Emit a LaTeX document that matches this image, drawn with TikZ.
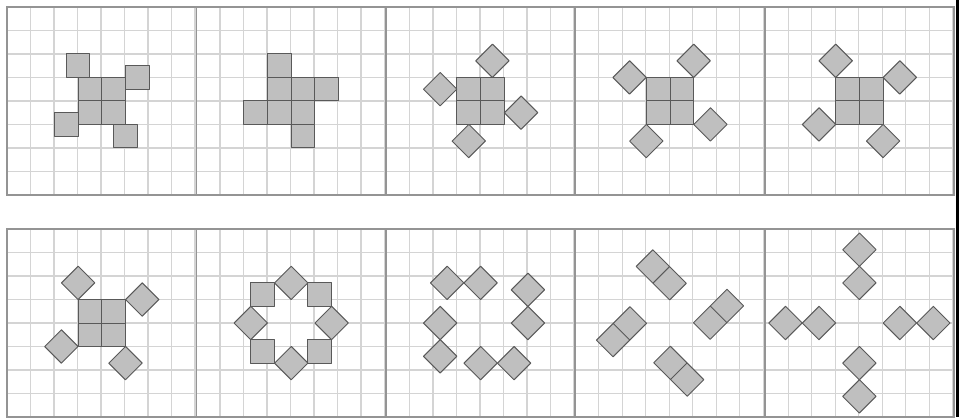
\documentclass[tikz,border=0pt]{standalone}
\begin{document}
\begin{tikzpicture}[x=1.0074cm, y=1cm,
      cellgrid/.style={draw=black!17, line width=1.5pt},
      panelframe/.style={draw=black!42, line width=2pt},
      tile/.style={draw=black!65, fill=gray!50, line width=1.2pt, line join=round},
      diam/.style={tile, rotate=45},
      pairne/.style={tile, rotate=45},
      pairse/.style={tile, rotate=-45}]
    % one unit = one grid cell; each panel is 8 x 8 cells with its lower left corner at the
    % scope origin. Diamonds are unit squares turned by 45 degrees, 0.7071 = half diagonal.
    \useasboundingbox (0,0) rectangle (40.76,17.745);
    \fill[white] (0,0) rectangle (40.76,17.745);
    \fill[black] (40.38,0) rectangle (40.49,17.745);
    % top row
    \begin{scope}[shift={(0.3,9.45)}]
      \draw[cellgrid] (0,0) grid (8,8);
      \draw[panelframe] (0,0) rectangle (8,8);
      \draw[tile] (3,3) rectangle (5,5) (4,3) -- (4,5) (3,4) -- (5,4);
      \draw[tile] (2.5,5) rectangle (3.5,6);
      \draw[tile] (5,4.5) rectangle (6,5.5);
      \draw[tile] (2,2.5) rectangle (3,3.5);
      \draw[tile] (4.5,2) rectangle (5.5,3);
    \end{scope}
    \begin{scope}[shift={(8.3,9.45)}]
      \draw[cellgrid] (0,0) grid (8,8);
      \draw[panelframe] (0,0) rectangle (8,8);
      \draw[tile] (3,3) rectangle (5,5) (4,3) -- (4,5) (3,4) -- (5,4);
      \draw[tile] (3,5) rectangle (4,6);
      \draw[tile] (5,4) rectangle (6,5);
      \draw[tile] (2,3) rectangle (3,4);
      \draw[tile] (4,2) rectangle (5,3);
    \end{scope}
    \begin{scope}[shift={(16.3,9.45)}]
      \draw[cellgrid] (0,0) grid (8,8);
      \draw[panelframe] (0,0) rectangle (8,8);
      \draw[tile] (3,3) rectangle (5,5) (4,3) -- (4,5) (3,4) -- (5,4);
      \draw[shift={(4.5,5.7071)}, diam] (-0.5,-0.5) rectangle (0.5,0.5);
      \draw[shift={(5.7071,3.5)}, diam] (-0.5,-0.5) rectangle (0.5,0.5);
      \draw[shift={(3.5,2.2929)}, diam] (-0.5,-0.5) rectangle (0.5,0.5);
      \draw[shift={(2.2929,4.5)}, diam] (-0.5,-0.5) rectangle (0.5,0.5);
    \end{scope}
    \begin{scope}[shift={(24.3,9.45)}]
      \draw[cellgrid] (0,0) grid (8,8);
      \draw[panelframe] (0,0) rectangle (8,8);
      \draw[tile] (3,3) rectangle (5,5) (4,3) -- (4,5) (3,4) -- (5,4);
      \draw[shift={(2.2929,5)}, diam] (-0.5,-0.5) rectangle (0.5,0.5);
      \draw[shift={(5,5.7071)}, diam] (-0.5,-0.5) rectangle (0.5,0.5);
      \draw[shift={(5.7071,3)}, diam] (-0.5,-0.5) rectangle (0.5,0.5);
      \draw[shift={(3,2.2929)}, diam] (-0.5,-0.5) rectangle (0.5,0.5);
    \end{scope}
    \begin{scope}[shift={(32.3,9.45)}]
      \draw[cellgrid] (0,0) grid (8,8);
      \draw[panelframe] (0,0) rectangle (8,8);
      \draw[tile] (3,3) rectangle (5,5) (4,3) -- (4,5) (3,4) -- (5,4);
      \draw[shift={(3,5.7071)}, diam] (-0.5,-0.5) rectangle (0.5,0.5);
      \draw[shift={(5.7071,5)}, diam] (-0.5,-0.5) rectangle (0.5,0.5);
      \draw[shift={(5,2.2929)}, diam] (-0.5,-0.5) rectangle (0.5,0.5);
      \draw[shift={(2.2929,3)}, diam] (-0.5,-0.5) rectangle (0.5,0.5);
    \end{scope}
    % bottom row
    \begin{scope}[shift={(0.3,0)}]
      \draw[cellgrid] (0,0) grid (8,8);
      \draw[panelframe] (0,0) rectangle (8,8);
      \draw[tile] (3,3) rectangle (5,5) (4,3) -- (4,5) (3,4) -- (5,4);
      \draw[shift={(3,5.7071)}, diam] (-0.5,-0.5) rectangle (0.5,0.5);
      \draw[shift={(5.7071,5)}, diam] (-0.5,-0.5) rectangle (0.5,0.5);
      \draw[shift={(5,2.2929)}, diam] (-0.5,-0.5) rectangle (0.5,0.5);
      \draw[shift={(2.2929,3)}, diam] (-0.5,-0.5) rectangle (0.5,0.5);
    \end{scope}
    \begin{scope}[shift={(8.3,0)}]
      \draw[cellgrid] (0,0) grid (8,8);
      \draw[panelframe] (0,0) rectangle (8,8);
      \draw[tile] (2.2929,4.7071) rectangle (3.2929,5.7071);
      \draw[tile] (4.7071,4.7071) rectangle (5.7071,5.7071);
      \draw[tile] (2.2929,2.2929) rectangle (3.2929,3.2929);
      \draw[tile] (4.7071,2.2929) rectangle (5.7071,3.2929);
      \draw[shift={(4,5.7071)}, diam] (-0.5,-0.5) rectangle (0.5,0.5);
      \draw[shift={(5.7071,4)}, diam] (-0.5,-0.5) rectangle (0.5,0.5);
      \draw[shift={(4,2.2929)}, diam] (-0.5,-0.5) rectangle (0.5,0.5);
      \draw[shift={(2.2929,4)}, diam] (-0.5,-0.5) rectangle (0.5,0.5);
    \end{scope}
    \begin{scope}[shift={(16.3,0)}]
      \draw[cellgrid] (0,0) grid (8,8);
      \draw[panelframe] (0,0) rectangle (8,8);
      \draw[shift={(2.5858,5.7071)}, diam] (-0.5,-0.5) rectangle (0.5,0.5);
      \draw[shift={(4,5.7071)}, diam] (-0.5,-0.5) rectangle (0.5,0.5);
      \draw[shift={(6,5.4142)}, diam] (-0.5,-0.5) rectangle (0.5,0.5);
      \draw[shift={(6,4)}, diam] (-0.5,-0.5) rectangle (0.5,0.5);
      \draw[shift={(4,2.2929)}, diam] (-0.5,-0.5) rectangle (0.5,0.5);
      \draw[shift={(5.4142,2.2929)}, diam] (-0.5,-0.5) rectangle (0.5,0.5);
      \draw[shift={(2.2929,4)}, diam] (-0.5,-0.5) rectangle (0.5,0.5);
      \draw[shift={(2.2929,2.5858)}, diam] (-0.5,-0.5) rectangle (0.5,0.5);
    \end{scope}
    \begin{scope}[shift={(24.3,0)}]
      \draw[cellgrid] (0,0) grid (8,8);
      \draw[panelframe] (0,0) rectangle (8,8);
      \draw[shift={(3.63,6.05)}, pairse] (-1,-0.5) rectangle (1,0.5) (0,-0.5) -- (0,0.5);
      \draw[shift={(6.05,4.37)}, pairne] (-1,-0.5) rectangle (1,0.5) (0,-0.5) -- (0,0.5);
      \draw[shift={(4.37,1.95)}, pairse] (-1,-0.5) rectangle (1,0.5) (0,-0.5) -- (0,0.5);
      \draw[shift={(1.95,3.63)}, pairne] (-1,-0.5) rectangle (1,0.5) (0,-0.5) -- (0,0.5);
    \end{scope}
    \begin{scope}[shift={(32.3,0)}]
      \draw[cellgrid] (0,0) grid (8,8);
      \draw[panelframe] (0,0) rectangle (8,8);
      \draw[shift={(4,7.1213)}, diam] (-0.5,-0.5) rectangle (0.5,0.5);
      \draw[shift={(4,5.7071)}, diam] (-0.5,-0.5) rectangle (0.5,0.5);
      \draw[shift={(5.7071,4)}, diam] (-0.5,-0.5) rectangle (0.5,0.5);
      \draw[shift={(7.1213,4)}, diam] (-0.5,-0.5) rectangle (0.5,0.5);
      \draw[shift={(4,2.2929)}, diam] (-0.5,-0.5) rectangle (0.5,0.5);
      \draw[shift={(4,0.8787)}, diam] (-0.5,-0.5) rectangle (0.5,0.5);
      \draw[shift={(2.2929,4)}, diam] (-0.5,-0.5) rectangle (0.5,0.5);
      \draw[shift={(0.8787,4)}, diam] (-0.5,-0.5) rectangle (0.5,0.5);
    \end{scope}
  \end{tikzpicture}
\end{document}
